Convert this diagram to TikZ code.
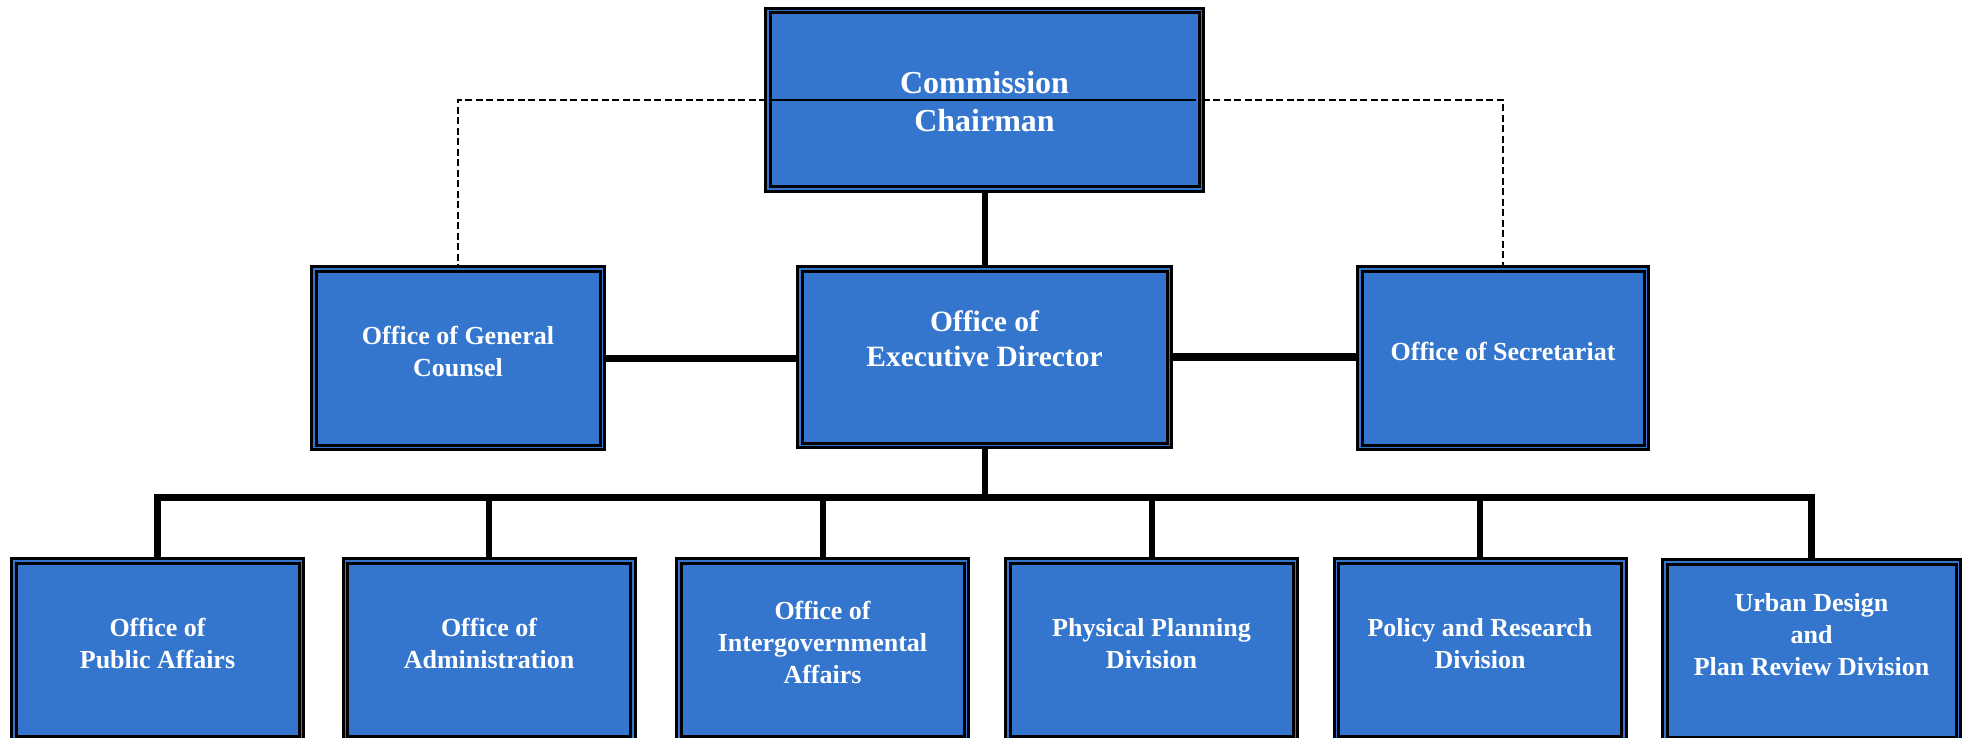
\documentclass[tikz,border=0pt]{standalone}
\usepackage{fontspec}
\setmainfont{Liberation Serif}
\usetikzlibrary{backgrounds}
\definecolor{boxblue}{HTML}{3476CE}
\begin{document}
\begin{tikzpicture}[x=1pt,y=-1pt,
  box/.style={draw=black, double=boxblue, double distance=1.5pt, line width=3pt, fill=boxblue, inner sep=0pt},
  lbl/.style={text=white, align=center, inner sep=0pt, font=\fontsize{26}{32}\selectfont\bfseries},
  lblbig/.style={lbl, font=\fontsize{29.5}{35}\selectfont\bfseries},
  lbltop/.style={lbl, font=\fontsize{32}{38}\selectfont\bfseries},
  conn/.style={line width=7pt},
  vconn/.style={line width=6pt},
  dashline/.style={line width=1.2pt, dash pattern=on 7pt off 3.5pt},
  bbox/.style={box, minimum width=287.5pt, minimum height=177.5pt}
]
\useasboundingbox (0,0) rectangle (1965,738);
\clip (0,0) rectangle (1965,738);

% upper boxes
\node[box, minimum width=433.5pt, minimum height=178.5pt] (ch) at (984.5,100) {};
\node[box, minimum width=288.5pt, minimum height=178.5pt] (gc) at (458,358) {};
\node[box, minimum width=369.5pt, minimum height=176.5pt] (ed) at (984.5,357) {};
\node[box, minimum width=286.5pt, minimum height=178.5pt] (sec) at (1503,358) {};

% lower boxes
\node[bbox] (b1) at (157.5,649.5) {};
\node[bbox] (b2) at (489,649.5) {};
\node[bbox] (b3) at (822.5,649.5) {};
\node[bbox] (b4) at (1151.5,649.5) {};
\node[bbox] (b5) at (1480,649.5) {};
\node[bbox, minimum width=293.5pt] (b6) at (1811.5,650.5) {};

\coordinate (bus) at (984.5,497);

% texts
\node[lbltop] (cht) at (984.5,105) {\strut Commission\\\strut Chairman};
\node[lbl] (gct) at (458,354.5) {\strut Office of General\\\strut Counsel};
\node[lblbig] (edt) at (984.5,342) {\strut Office of\\\strut Executive Director};
\node[lbl] (sect) at (1503,354) {\strut Office of Secretariat};
\node[lbl] (b1t) at (157.5,646) {\strut Office of\\\strut Public Affairs};
\node[lbl] (b2t) at (489,646) {\strut Office of\\\strut Administration};
\node[lbl] (b3t) at (822.5,645.5) {\strut Office of\\\strut Intergovernmental\\\strut Affairs};
\node[lbl] (b4t) at (1151.5,646) {\strut Physical Planning\\\strut Division};
\node[lbl] (b5t) at (1480,646) {\strut Policy and Research\\\strut Division};
\node[lbl] (b6t) at (1811.5,637.5) {\strut Urban Design\\\strut and\\\strut Plan Review Division};

% line across chairman box
\draw[line width=2pt] ([xshift=4.5pt]ch.west) -- ([xshift=-6.5pt]ch.east);

\begin{pgfonlayer}{background}
  \draw[dashline] (ch.west) -| (gc.north);
  \draw[dashline] (ch.east) -| (sec.north);
  \draw[vconn] (ch.south) -- (ed.north);
  \draw[conn] (gc.east) -- (gc.east -| ed.west);
  \draw[line width=7.5pt] (ed.east) -- (ed.east -| sec.west);
  \draw[vconn] (ed.south) -- (bus);
  \draw[conn, line join=miter] (b1.north) -- (b1.north |- bus) -- (b6.north |- bus) -- (b6.north);
  \foreach \b in {b2,b3,b4,b5}
    \draw[vconn] (\b.north |- bus) -- (\b.north);
\end{pgfonlayer}
\end{tikzpicture}
\end{document}
